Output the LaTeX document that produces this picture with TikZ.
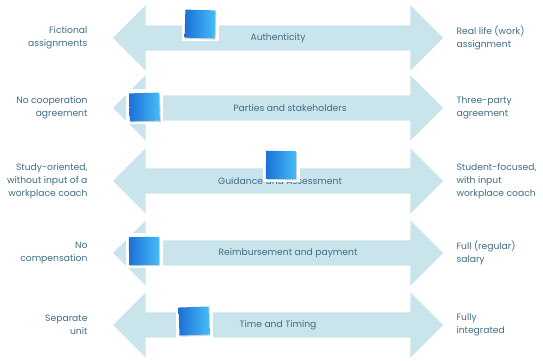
\documentclass[tikz,border=0pt]{standalone}
\usepackage{fontspec}
\setmainfont{Poppins}
\usepackage{tikz}
\usetikzlibrary{shapes.arrows,shadows}

\definecolor{bandblue}{HTML}{C9E5EB}
\definecolor{textblue}{HTML}{3F6C88}
\definecolor{notedark}{HTML}{1C70D8}
\definecolor{notelight}{HTML}{45BDF7}

\begin{document}
\begin{tikzpicture}[x=1pt, y=1pt,
		every node/.style={font=\fontsize{9.2}{13}\selectfont, text=textblue},
		band/.style={double arrow, fill=bandblue, draw=none, inner xsep=0pt, inner ysep=12.5pt,
			text height=0pt, text depth=0pt, minimum width=65pt, minimum height=330pt,
			double arrow head extend=20pt},
		lefttext/.style={anchor=east, align=right},
		righttext/.style={anchor=west, align=left},
		gap/.style={fill=white, minimum width=37pt, minimum height=35pt, inner sep=0pt},
		note/.style={left color=notedark, right color=notelight, minimum width=30pt, minimum height=28pt,
			inner sep=0pt, drop shadow={opacity=0.35, shadow xshift=1pt, shadow yshift=-1.2pt}}]
		\useasboundingbox (0,0) rectangle (543,361);
		% the five scales
		\node[band] (arrow1) at (278,323) {};
		\node[band] (arrow2) at (278,253) {};
		\node[band] (arrow3) at (278,180) {};
		\node[band] (arrow4) at (278,108) {};
		\node[band] (arrow5) at (278,36) {};
		% labels on the shafts
		\node (lab1) at (278,323) {Authenticity};
		\node (lab2) at (290,253) {Parties and stakeholders};
		\node (lab3) at (280,180) {Guidance and Assessment};
		\node (lab4) at (288,108) {Reimbursement and payment};
		\node (lab5) at (278,36) {Time and Timing};
		% left ends
		\node[lefttext] (left1) at (91,323) {Fictional\\assignments};
		\node[lefttext] (left2) at (91,253) {No cooperation\\agreement};
		\node[lefttext] (left3) at (91,180) {Study-oriented,\\without input of a\\workplace coach};
		\node[lefttext] (left4) at (91,108) {No\\compensation};
		\node[lefttext] (left5) at (91,36) {Separate\\unit};
		% right ends
		\node[righttext] (right1) at (453,323) {Real life (work)\\assignment};
		\node[righttext] (right2) at (453,253) {Three-party\\agreement};
		\node[righttext] (right3) at (453,180) {Student-focused,\\with input\\workplace coach};
		\node[righttext] (right4) at (453,108) {Full (regular)\\salary};
		\node[righttext] (right5) at (453,36) {Fully\\integrated};
		% sticky notes
		\node[gap] (gap1) at (200,337) {};
		\node[note, rotate=-1.5] (note1) at (200,337) {};
		\node[gap] (gap2) at (144.5,254) {};
		\node[note, rotate=1.5] (note2) at (144.5,254) {};
		\node[gap] (gap3) at (281,196) {};
		\node[note, rotate=-1] (note3) at (281,196) {};
		\node[gap] (gap4) at (144,110) {};
		\node[note, rotate=1] (note4) at (144,110) {};
		\node[gap] (gap5) at (194,40) {};
		\node[note, rotate=2] (note5) at (194,40) {};
\end{tikzpicture}
\end{document}
